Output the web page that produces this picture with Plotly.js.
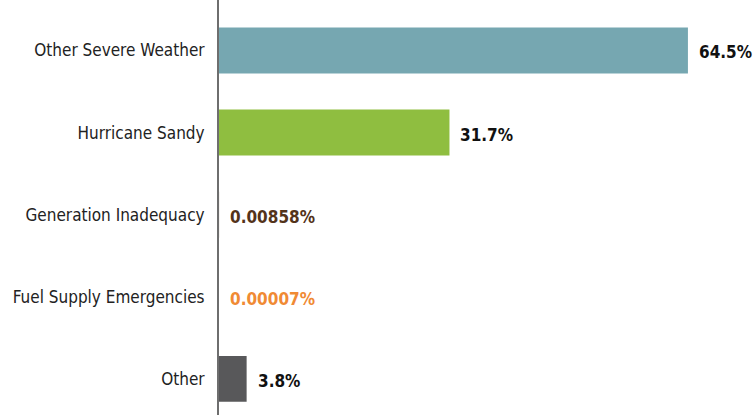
<!DOCTYPE html>
<html>
<head>
<meta charset="utf-8">
<script src="https://cdn.plot.ly/plotly-3.0.1.min.js"></script>
<style>html,body{margin:0;padding:0;background:#fff;}#chart{width:753px;height:415px;}</style>
</head>
<body>
<div id="chart"></div>
<script>
const categories = ["Other Severe Weather", "Hurricane Sandy", "Generation Inadequacy", "Fuel Supply Emergencies", "Other"];
const values = [64.5, 31.7, 0.00858, 0.00007, 3.8];
const valueLabels = ["64.5%", "31.7%", "0.00858%", "0.00007%", "3.8%"];
const barColors = ["#76a7b1", "#8fbe40", "#5a3a1e", "#f08a34", "#58585a"];
const labelColors = ["#111111", "#111111", "#53331a", "#f08a34", "#111111"];

const trace = {
  type: "bar",
  orientation: "h",
  y: categories,
  x: values,
  width: 0.56,
  marker: {color: barColors},
  hoverinfo: "none"
};

const annotations = categories.map((c, i) => ({
  x: values[i],
  y: c,
  xref: "x",
  yref: "y",
  text: valueLabels[i],
  showarrow: false,
  xanchor: "left",
  yanchor: "middle",
  xshift: 9,
  yshift: -2,
  font: {family: "'DejaVu Sans Condensed', 'DejaVu Sans', sans-serif", size: 17, color: labelColors[i], weight: 700}
}));

const layout = {
  width: 753,
  height: 415,
  margin: {l: 219, r: 0, t: 0, b: 0},
  paper_bgcolor: "#ffffff",
  plot_bgcolor: "#ffffff",
  showlegend: false,
  xaxis: {
    range: [0, 73.45],
    showgrid: false,
    zeroline: false,
    showline: false,
    showticklabels: false,
    ticks: ""
  },
  yaxis: {
    type: "category",
    range: [4.44, -0.615],
    showgrid: false,
    zeroline: false,
    showline: true,
    linecolor: "#6e6e6e",
    linewidth: 2,
    ticks: "",
    ticklabelstandoff: 9,
    tickfont: {family: "'DejaVu Sans Condensed', 'DejaVu Sans', sans-serif", size: 17, color: "#222222"}
  },
  annotations: annotations
};

Plotly.newPlot("chart", [trace], layout, {staticPlot: true, displayModeBar: false});
</script>
</body>
</html>
